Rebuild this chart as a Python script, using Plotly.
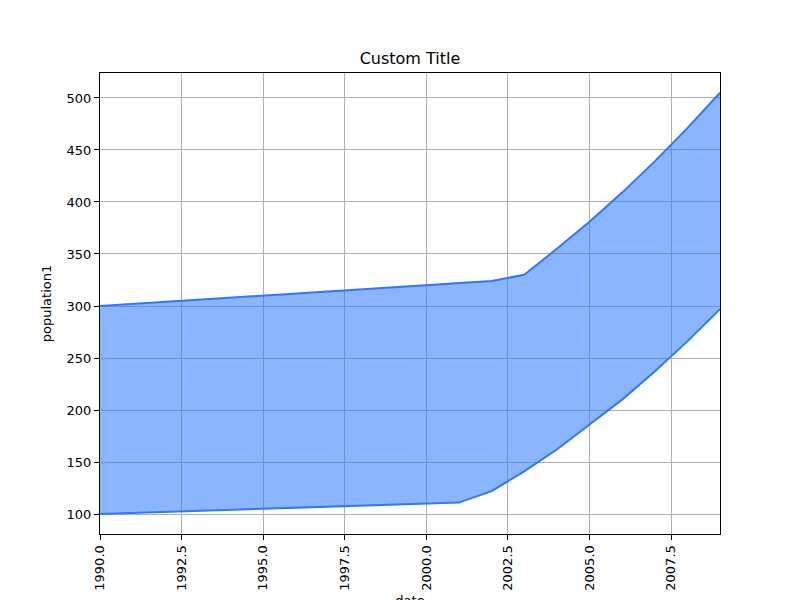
import plotly.graph_objects as go

years = list(range(1990, 2010))
population1 = [300, 302, 304, 306, 308, 310, 312, 314, 316, 318, 320, 322, 324,
               330, 355, 381, 409, 439, 471, 505]
population2 = [100, 101, 102, 103, 104, 105, 106, 107, 108, 109, 110, 111, 122,
               141, 162, 186, 210, 237, 266, 297]

line_color = "rgb(46,120,255)"

fig = go.Figure()
fig.add_trace(go.Scatter(x=years, y=population2, mode="lines",
                         line=dict(color=line_color, width=2), showlegend=False))
fig.add_trace(go.Scatter(x=years, y=population1, mode="lines", fill="tonexty",
                         fillcolor="rgba(46,120,255,0.55)",
                         line=dict(color=line_color, width=2), showlegend=False))

ax = dict(showgrid=True, gridcolor="#b0b0b0", gridwidth=1, showline=True,
          linecolor="black", linewidth=1, mirror=True, ticks="outside",
          ticklen=5, tickcolor="black", zeroline=False,
          tickfont=dict(family="DejaVu Sans", size=13, color="black"))

fig.update_layout(
    width=800, height=600,
    paper_bgcolor="white", plot_bgcolor="white",
    margin=dict(l=92, r=88, t=65, b=74),
    title=dict(text="Custom Title", x=0.5025, xanchor="center", y=0.9167, yanchor="middle",
               font=dict(family="DejaVu Sans", size=16, color="black")),
    xaxis=dict(ax, range=[1990, 2009], dtick=2.5, tick0=1990, tickformat=".1f",
               tickangle=-90, automargin=False,
               title=dict(text="date", standoff=15,
                          font=dict(family="DejaVu Sans", size=13, color="black"))),
    yaxis=dict(ax, range=[80.8, 524], dtick=50, automargin=False,
               title=dict(text="population1", standoff=12,
                          font=dict(family="DejaVu Sans", size=13, color="black"))),
)

fig.write_html("out.html")
